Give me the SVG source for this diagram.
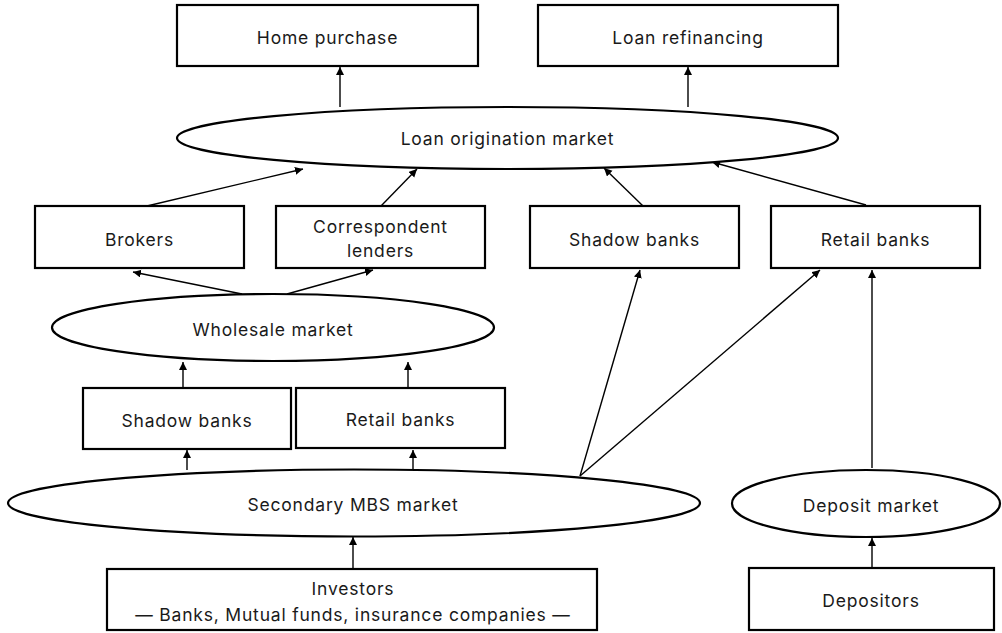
<svg xmlns="http://www.w3.org/2000/svg" width="1002" height="633" viewBox="0 0 1002 633">
<style>
.box{fill:#fff;stroke:#000;stroke-width:2.2}
.ell{fill:#fff;stroke:#000;stroke-width:2.2}
.lbl{font-family:Inter,"Open Sans","Liberation Sans",sans-serif;font-size:17.5px;fill:#1a1a1a;text-anchor:middle;letter-spacing:0.8px}
.con{stroke:#000;stroke-width:1.4;fill:none;marker-end:url(#ah)}
</style>
<defs>
<marker id="ah" markerUnits="userSpaceOnUse" markerWidth="10" markerHeight="10" refX="8" refY="4" orient="auto">
<path d="M0,0 L8,4 L0,8 Z" fill="#000"/>
</marker>
</defs>
<rect width="1002" height="633" fill="#fff"/>
<g id="connectors">
<line class="con" x1="340" y1="107" x2="340" y2="67"/>
<line class="con" x1="688" y1="107" x2="688" y2="67"/>
<line class="con" x1="147" y1="206" x2="303" y2="169"/>
<line class="con" x1="381" y1="206" x2="417" y2="169"/>
<line class="con" x1="643" y1="206" x2="604" y2="168"/>
<line class="con" x1="866" y1="205" x2="712" y2="162"/>
<line class="con" x1="242" y1="294" x2="133" y2="272"/>
<line class="con" x1="287" y1="294" x2="373" y2="270"/>
<line class="con" x1="183" y1="388" x2="183" y2="362"/>
<line class="con" x1="408" y1="388" x2="408" y2="362"/>
<line class="con" x1="187" y1="470" x2="187" y2="450"/>
<line class="con" x1="413" y1="470" x2="413" y2="450"/>
<line class="con" x1="580" y1="476" x2="640" y2="270"/>
<line class="con" x1="580" y1="476" x2="820" y2="270"/>
<line class="con" x1="872" y1="468" x2="872" y2="270"/>
<line class="con" x1="353" y1="569" x2="353" y2="537"/>
<line class="con" x1="872" y1="568" x2="872" y2="538"/>
</g>
<g id="home-purchase"><rect class="box" x="177" y="5" width="301" height="61"/><text class="lbl" x="327.5" y="44">Home purchase</text></g>
<g id="loan-refinancing"><rect class="box" x="538" y="5" width="300" height="61"/><text class="lbl" x="688" y="44">Loan refinancing</text></g>
<g id="loan-origination"><ellipse class="ell" cx="507.5" cy="138" rx="330.5" ry="31"/><text class="lbl" x="507.5" y="145">Loan origination market</text></g>
<g id="brokers"><rect class="box" x="35" y="206" width="209" height="62"/><text class="lbl" x="139.5" y="246">Brokers</text></g>
<g id="correspondent-lenders"><rect class="box" x="276" y="206" width="209" height="62"/><text class="lbl" x="380.5" y="233">Correspondent</text><text class="lbl" x="380.5" y="257">lenders</text></g>
<g id="shadow-banks-top"><rect class="box" x="530" y="206" width="209" height="62"/><text class="lbl" x="634.5" y="246">Shadow banks</text></g>
<g id="retail-banks-top"><rect class="box" x="771" y="206" width="209" height="62"/><text class="lbl" x="875.5" y="246">Retail banks</text></g>
<g id="wholesale-market"><ellipse class="ell" cx="273" cy="327.5" rx="221" ry="33.5"/><text class="lbl" x="273" y="336">Wholesale market</text></g>
<g id="shadow-banks-bottom"><rect class="box" x="83" y="388" width="208" height="61"/><text class="lbl" x="187" y="427">Shadow banks</text></g>
<g id="retail-banks-bottom"><rect class="box" x="296" y="388" width="209" height="60"/><text class="lbl" x="400.5" y="426">Retail banks</text></g>
<g id="secondary-mbs"><ellipse class="ell" cx="354" cy="503" rx="346" ry="33.5"/><text class="lbl" x="353" y="511">Secondary MBS market</text></g>
<g id="deposit-market"><ellipse class="ell" cx="866" cy="503.5" rx="134" ry="33.5"/><text class="lbl" x="871" y="512">Deposit market</text></g>
<g id="investors"><rect class="box" x="107" y="569" width="490" height="61"/><text class="lbl" x="353" y="595">Investors</text><text class="lbl" x="353" y="621">— Banks, Mutual funds, insurance companies —</text></g>
<g id="depositors"><rect class="box" x="749" y="568" width="245" height="62"/><text class="lbl" x="871" y="607">Depositors</text></g>
</svg>
